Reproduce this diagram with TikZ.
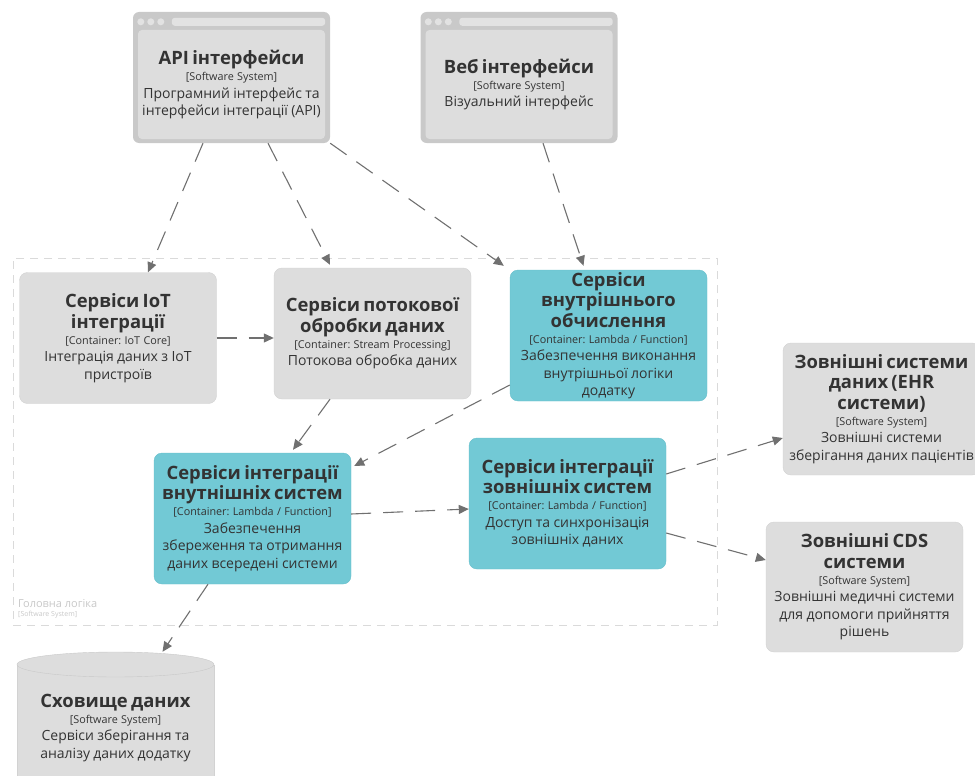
\documentclass[tikz,border=0pt]{standalone}
\usepackage{fontspec}
\setmainfont{Open Sans}
\usetikzlibrary{arrows.meta}
\definecolor{boxgray}{HTML}{DDDDDD}
\definecolor{boxline}{HTML}{D2D2D2}
\definecolor{framegray}{HTML}{C9C9C9}
\definecolor{dotgray}{HTML}{E2E2E2}
\definecolor{tealbox}{HTML}{72C9D5}
\definecolor{tealline}{HTML}{68BFCB}
\definecolor{txtgray}{HTML}{333333}
\definecolor{arrowgray}{HTML}{707070}
\definecolor{bordergray}{HTML}{DADADA}
\definecolor{labelgray}{HTML}{C8C8C8}
\frenchspacing
\newcommand{\elemtitle}{\fontsize{18.4}{20.5}\selectfont\bfseries}
\newcommand{\elemtype}{\fontsize{10.8}{16}\selectfont\mdseries}
\newcommand{\elemdesc}{\fontsize{14}{17.5}\selectfont\mdseries}
\tikzset{
        box/.style={rectangle,rounded corners=8pt,draw=boxline,fill=boxgray,minimum width=197pt,minimum height=131pt,inner sep=0.5pt,text width=196pt,align=center,text=txtgray},
        cont/.style={box,draw=tealline,fill=tealbox},
        browser/.style={rectangle,rounded corners=6pt,fill=framegray,minimum width=197pt,minimum height=131pt},
        browserpanel/.style={box,draw=none,rounded corners=4pt,minimum width=187pt,minimum height=109pt,text width=186pt},
        dep/.style={draw=arrowgray,line width=1.1pt,dash pattern=on 20pt off 12pt,-{Triangle[length=10pt,width=9pt]}},
}
\begin{document}
\begin{tikzpicture}[x=1pt,y=-1pt]
        \useasboundingbox (0,0) rectangle (975,776);
        \node[draw=bordergray,line width=1pt,dash pattern=on 8pt off 6pt,minimum width=704pt,minimum height=367pt] (main) at (365,441.5) {};
        \node[anchor=west,inner sep=0pt,text=labelgray,font=\fontsize{11}{12}\selectfont] (mainlbl) at (18,604) {Головна логіка};
        \node[anchor=west,inner sep=0pt,text=labelgray,font=\fontsize{7}{8}\selectfont] (maintype) at (18,615) {[Software System]};

        \node[browser] (api) at (231.5,77.5) {};
        \node[browser] (web) at (519,77.5) {};
        \foreach \b in {api,web} {
            \foreach \i in {0,1,2}
                \fill[dotgray] ([xshift={8+10*\i},yshift=-10]\b.north west) circle (3.5);
            \fill[dotgray,rounded corners=3pt] ([xshift=39,yshift=-6]\b.north west) rectangle ([xshift=-5,yshift=-14]\b.north east);
        }
        \node[browserpanel] (apitext) at ([yshift=-7]api.center) {\elemtitle API інтерфейси\par\elemtype [Software System]\par\elemdesc Програмний інтерфейс та\\інтерфейси інтеграції (API)\par};
        \node[browserpanel] (webtext) at ([yshift=-7]web.center) {\elemtitle Веб інтерфейси\par\elemtype [Software System]\par\elemdesc Візуальний інтерфейс\par};

        \node[box] (iot) at (118,338) {\elemtitle Сервіси IoT\\інтеграції\par\elemtype [Container: IoT Core]\par\elemdesc Інтеграція даних з IoT\\пристроїв\par};
        \node[box] (stream) at (372.5,333.5) {\elemtitle Сервіси потокової\\обробки даних\par\elemtype [Container: Stream Processing]\par\elemdesc Потокова обробка даних\par};
        \node[cont] (comp) at (608.5,335.5) {\elemtitle Сервіси\\внутрішнього\\обчислення\par\elemtype [Container: Lambda / Function]\par\elemdesc Забезпечення виконання\\внутрішньої логіки\\додатку\par};
        \node[cont] (intint) at (252.5,518.5) {\elemtitle Сервіси інтеграції\\внутнішніх систем\par\elemtype [Container: Lambda / Function]\par\elemdesc Забезпечення\\збереження та отримання\\даних всередені системи\par};
        \node[cont] (extint) at (567.5,503.5) {\elemtitle Сервіси інтеграції\\зовнішніх систем\par\elemtype [Container: Lambda / Function]\par\elemdesc Доступ та синхронізація\\зовнішніх даних\par};
        \node[box,minimum height=132pt] (ehr) at (881.5,409) {\elemtitle Зовнішні системи\\даних (EHR\\системи)\par\elemtype [Software System]\par\elemdesc Зовнішні системи\\зберігання даних пацієнтів\par};
        \node[box,minimum height=130pt] (cds) at (864.5,587) {\elemtitle Зовнішні CDS\\системи\par\elemtype [Software System]\par\elemdesc Зовнішні медичні системи\\для допомоги прийняття\\рішень\par};

        \draw[boxline,fill=boxgray] (17,664.5) -- (17,800) -- (214,800) -- (214,664.5);
        \draw[draw=framegray,fill=boxgray] (115.5,664.5) ellipse [x radius=98.5,y radius=12.5];
        \node[box,draw=none,fill=none,minimum height=152pt] (store) at (115.5,728) {\elemtitle Сховище даних\par\elemtype [Software System]\par\elemdesc Сервіси зберігання та\\аналізу даних додатку\par};

        \draw[dep] ([xshift=-28.5]api.south) -- ([xshift=30]iot.north);
        \draw[dep] ([xshift=36.5]api.south) -- ([xshift=-42.5,yshift=3]stream.north);
        \draw[dep] (api.south east) -- ([xshift=-6,yshift=4]comp.north west);
        \draw[dep] ([xshift=24]web.south) -- ([xshift=-25,yshift=4]comp.north);
        \draw[dep] (iot.east) -- (iot.east -| stream.west);
        \draw[dep] ([xshift=-42.5]stream.south) -- ([xshift=40.5,yshift=3]intint.north);
        \draw[dep] ([yshift=-49.5]comp.west) -- ([xshift=3,yshift=52.5]intint.east);
        \draw[dep] ([yshift=4.5]intint.east) -- ([yshift=-5.5]extint.west);
        \draw[dep] ([yshift=29.5]extint.east) -- ([yshift=-29]ehr.west);
        \draw[dep] ([yshift=-29.5]extint.east) -- ([yshift=27]cds.west);
        \draw[dep] ([xshift=-44.5]intint.south) -- ([xshift=47]store.north);
\end{tikzpicture}
\end{document}
